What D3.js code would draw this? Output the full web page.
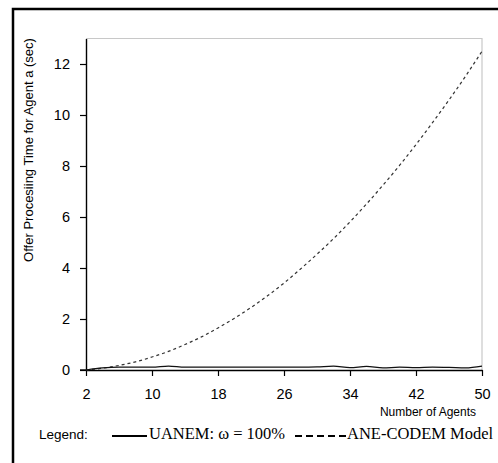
<!DOCTYPE html>
<html><head><meta charset="utf-8">
<script src="https://cdn.jsdelivr.net/npm/d3@7/dist/d3.min.js"></script>
<style>body{margin:0;background:#fff}svg{display:block}</style>
</head><body>
<svg id="c" width="498" height="463"></svg>
<script>
const agents = [2,4,6,8,10,12,14,16,18,20,22,24,26,28,30,32,34,36,38,40,42,44,46,48,50];
const uanem = [0,0.08,0.11,0.11,0.11,0.15,0.11,0.11,0.11,0.11,0.11,0.11,0.11,0.11,0.12,0.15,0.09,0.14,0.08,0.11,0.09,0.11,0.10,0.08,0.15];
const anecodem = [0,0.07,0.18,0.32,0.51,0.73,1.00,1.30,1.65,2.03,2.45,2.91,3.41,3.96,4.54,5.15,5.81,6.51,7.25,8.02,8.84,9.70,10.59,11.52,12.50];
const xTicks = [2,10,18,26,34,42,50];
const yTicks = [0,2,4,6,8,10,12];

const svg = d3.select("#c");
// outer frame
svg.append("rect").attr("x",13).attr("y",9).attr("width",600).attr("height",600)
  .attr("fill","none").attr("stroke","#000").attr("stroke-width",2.5);

const x = d3.scaleLinear().domain([2,50]).range([86,482]);
const y = d3.scaleLinear().domain([0,13]).range([370,38.5]);

// grey plot frame top/right
svg.append("path").attr("d",`M86,${y(13)}H482V370`).attr("fill","none").attr("stroke","#c8c8c8").attr("stroke-width",1.2);

const xa = svg.append("g").attr("transform","translate(0,370)")
  .call(d3.axisBottom(x).tickValues(xTicks).tickSize(6).tickPadding(13).tickSizeOuter(0));
const ya = svg.append("g").attr("transform","translate(86,0)")
  .call(d3.axisLeft(y).tickValues(yTicks).tickSize(6).tickPadding(10).tickSizeOuter(0));
[xa,ya].forEach(a=>{
  a.selectAll("text").attr("font-family","Arial, 'Liberation Sans', sans-serif").attr("font-size",14.5).attr("fill","#000");
  a.selectAll("line").attr("stroke","#000").attr("stroke-width",1.2);
  a.select(".domain").attr("stroke","#000").attr("stroke-width",1.4);
});
svg.append("line").attr("x1",80).attr("x2",86).attr("y1",370).attr("y2",370).attr("stroke","#000").attr("stroke-width",1.4);

const line = d3.line().x((d,i)=>x(agents[i])).y(d=>y(d)).curve(d3.curveMonotoneX);
svg.append("path").datum(anecodem).attr("d",line).attr("fill","none")
  .attr("stroke","#333").attr("stroke-width",1.2).attr("stroke-dasharray","3,3");
svg.append("path").datum(uanem).attr("d",line).attr("fill","none")
  .attr("stroke","#111").attr("stroke-width",1.2);

// axis titles
svg.append("text").attr("x",476).attr("y",416).attr("text-anchor","end")
  .attr("font-family","Arial, 'Liberation Sans', sans-serif").attr("font-size",12).text("Number of Agents");
svg.append("text").attr("transform","translate(33,150) rotate(-90)").attr("text-anchor","middle")
  .attr("font-family","Arial, 'Liberation Sans', sans-serif").attr("font-size",13).text("Offer Procesiing Time for Agent a (sec)");

// legend
svg.append("text").attr("x",39).attr("y",439).attr("font-family","Arial, 'Liberation Sans', sans-serif").attr("font-size",13.5).text("Legend:");
svg.append("line").attr("x1",112).attr("x2",147).attr("y1",436).attr("y2",436).attr("stroke","#000").attr("stroke-width",2);
svg.append("text").attr("x",149).attr("y",439).attr("font-family","'Liberation Serif','Times New Roman',serif").attr("font-size",16.5).text("UANEM: ω = 100%");
svg.append("line").attr("x1",295).attr("x2",346).attr("y1",436).attr("y2",436).attr("stroke","#000").attr("stroke-width",2).attr("stroke-dasharray","7,4");
svg.append("text").attr("x",347).attr("y",439).attr("font-family","'Liberation Serif','Times New Roman',serif").attr("font-size",16.5).text("ANE-CODEM Model");
</script>
</body></html>
